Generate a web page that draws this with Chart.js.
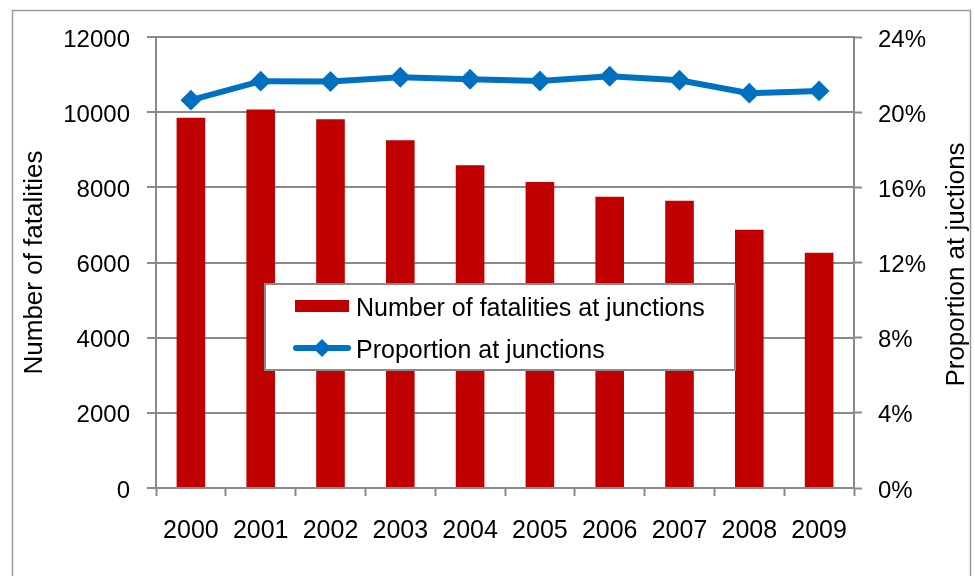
<!DOCTYPE html>
<html>
<head>
<meta charset="utf-8">
<title>Fatalities at junctions, 2000–2009</title>
<script src="https://cdn.jsdelivr.net/npm/chart.js@4"></script>
<style>
  html, body { margin: 0; padding: 0; background: #ffffff; }
  #wrap { width: 975px; height: 576px; position: relative; }
</style>
</head>
<body>
<div id="wrap"><canvas id="chart" width="975" height="576"></canvas></div>
<script>
// Years on the category axis
const years = ['2000', '2001', '2002', '2003', '2004', '2005', '2006', '2007', '2008', '2009'];
// Number of fatalities at junctions (left axis)
const fatalities = [9850, 10070, 9810, 9250, 8590, 8140, 7750, 7640, 6870, 6260];
// Proportion of all fatalities that happened at junctions, in % (right axis)
const proportion = [20.64, 21.65, 21.63, 21.86, 21.75, 21.66, 21.91, 21.70, 21.01, 21.13];
// Axis tick values
const leftTicks = [0, 2000, 4000, 6000, 8000, 10000, 12000];
const rightTicks = [0, 4, 8, 12, 16, 20, 24];
// Axis titles
const leftTitle = 'Number of fatalities';
const rightTitle = 'Proportion at juctions';

const FONT = 'Liberation Sans, Arial, sans-serif';
const NARROW = 'Liberation Sans Narrow, Arial Narrow, Liberation Sans, sans-serif';
const GREY = '#8a8a8a';
const RED = '#C00000';
const BLUE = '#0070C0';

// Outer frame around the whole chart
const framePlugin = {
  id: 'frame',
  beforeDraw(chart) {
    const ctx = chart.ctx;
    ctx.save();
    ctx.fillStyle = '#ffffff';
    ctx.fillRect(0, 0, chart.width, chart.height);
    ctx.strokeStyle = '#9a9a9a';
    ctx.lineWidth = 1.5;
    ctx.strokeRect(12.5, 10.5, 958, 600);
    ctx.restore();
  }
};

// Right-hand axis title, reading bottom to top like the left one
const rightTitlePlugin = {
  id: 'rightTitle',
  afterDraw(chart) {
    const ctx = chart.ctx;
    const area = chart.chartArea;
    ctx.save();
    ctx.translate(957, (area.top + area.bottom) / 2 + 2);
    ctx.rotate(-Math.PI / 2);
    ctx.font = '26px ' + FONT;
    ctx.fillStyle = '#000000';
    ctx.textAlign = 'center';
    ctx.textBaseline = 'middle';
    ctx.fillText(rightTitle, 0, 0);
    ctx.restore();
  }
};

// Boxed legend sitting over the bars
const boxLegendPlugin = {
  id: 'boxLegend',
  afterDraw(chart) {
    const ctx = chart.ctx;
    const ds = chart.data.datasets;
    const box = { x: 265, y: 284, w: 470, h: 86 };
    ctx.save();
    ctx.fillStyle = '#ffffff';
    ctx.fillRect(box.x, box.y, box.w, box.h);
    ctx.strokeStyle = GREY;
    ctx.lineWidth = 2;
    ctx.strokeRect(box.x, box.y, box.w, box.h);

    ctx.font = '25px ' + FONT;
    ctx.fillStyle = '#000000';
    ctx.textBaseline = 'middle';
    ctx.textAlign = 'left';

    // bar entry
    const y1 = 306;
    ctx.fillStyle = ds[0].backgroundColor;
    ctx.fillRect(295, y1 - 6, 54, 12);
    ctx.fillStyle = '#000000';
    ctx.fillText(ds[0].label, 356, y1 + 3);

    // line entry
    const y2 = 348;
    ctx.strokeStyle = ds[1].borderColor;
    ctx.lineWidth = 6;
    ctx.lineCap = 'round';
    ctx.beginPath();
    ctx.moveTo(296, y2);
    ctx.lineTo(348, y2);
    ctx.stroke();
    ctx.fillStyle = ds[1].borderColor;
    ctx.beginPath();
    ctx.moveTo(322, y2 - 9);
    ctx.lineTo(331, y2);
    ctx.lineTo(322, y2 + 9);
    ctx.lineTo(313, y2);
    ctx.closePath();
    ctx.fill();
    ctx.fillStyle = '#000000';
    ctx.fillText(ds[1].label, 356, y2 + 3);
    ctx.restore();
  }
};

new Chart(document.getElementById('chart'), {
  type: 'bar',
  data: {
    labels: years,
    datasets: [
      {
        type: 'bar',
        label: 'Number of fatalities at junctions',
        data: fatalities,
        backgroundColor: RED,
        borderWidth: 0,
        barPercentage: 0.41,
        categoryPercentage: 1.0,
        yAxisID: 'y',
        order: 1
      },
      {
        type: 'line',
        label: 'Proportion at junctions',
        data: proportion,
        borderColor: BLUE,
        backgroundColor: BLUE,
        borderWidth: 6,
        pointStyle: 'rectRot',
        pointRadius: 9,
        pointBorderWidth: 2,
        pointBackgroundColor: BLUE,
        pointBorderColor: BLUE,
        tension: 0,
        yAxisID: 'y1',
        order: 0
      }
    ]
  },
  options: {
    responsive: false,
    animation: false,
    devicePixelRatio: 1,
    layout: { padding: { top: 37, left: 0, right: 0, bottom: 0 } },
    plugins: {
      legend: { display: false },
      tooltip: { enabled: false },
      title: { display: false }
    },
    scales: {
      x: {
        type: 'category',
        offset: true,
        grid: {
          offset: true,
          drawOnChartArea: false,
          drawTicks: true,
          tickLength: 8,
          tickColor: GREY,
          tickWidth: 2
        },
        border: { display: true, color: GREY, width: 2 },
        ticks: {
          color: '#000000',
          font: { family: NARROW, size: 25 },
          padding: 20,
          maxRotation: 0,
          autoSkip: false
        },
        afterFit(scale) { scale.height = 88; }
      },
      y: {
        type: 'linear',
        position: 'left',
        min: 0,
        max: 12000,
        afterBuildTicks(scale) { scale.ticks = leftTicks.map(v => ({ value: v })); },
        grid: {
          color: GREY,
          lineWidth: 2,
          drawTicks: true,
          tickLength: 9,
          tickColor: GREY
        },
        border: { display: true, color: GREY, width: 2 },
        ticks: {
          color: '#000000',
          font: { family: FONT, size: 24 },
          padding: 17,
          labelOffset: 3,
          callback: v => String(v)
        },
        title: {
          display: true,
          text: leftTitle,
          color: '#000000',
          font: { family: FONT, size: 26 },
          padding: { top: 19, bottom: 0 }
        },
        afterFit(scale) { scale.width = 156; }
      },
      y1: {
        type: 'linear',
        position: 'right',
        min: 0,
        max: 24,
        afterBuildTicks(scale) { scale.ticks = rightTicks.map(v => ({ value: v })); },
        grid: {
          drawOnChartArea: false,
          drawTicks: true,
          tickLength: 8,
          tickColor: GREY,
          tickWidth: 2
        },
        border: { display: true, color: GREY, width: 2 },
        ticks: {
          color: '#000000',
          font: { family: FONT, size: 24 },
          padding: 16,
          labelOffset: 3,
          callback: v => v + '%'
        },
        title: { display: false },
        afterFit(scale) { scale.width = 121; }
      }
    }
  },
  plugins: [framePlugin, boxLegendPlugin, rightTitlePlugin]
});
</script>
</body>
</html>
